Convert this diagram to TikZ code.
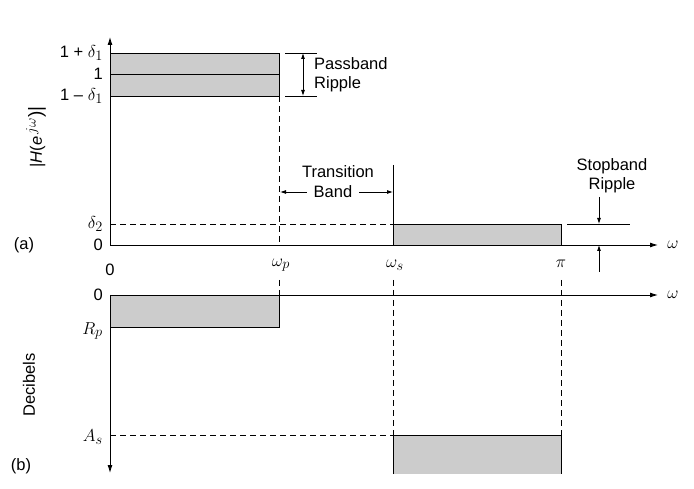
\documentclass[tikz,border=0pt]{standalone}
\usepackage{fontspec}
\setmainfont{Liberation Sans}
\usetikzlibrary{arrows.meta}

\tikzset{
  band/.style={fill=black!20},
  edge/.style={line width=0.9pt},
  guide/.style={line width=0.8pt, dash pattern=on 6pt off 4pt},
  axis/.style={line width=0.9pt, -{Latex[length=8pt,width=5pt]}},
  pointer/.style={line width=0.8pt, -{Latex[length=6pt,width=4pt]}},
  lbl/.style={font=\fontsize{16.5}{19}\selectfont, inner sep=1pt},
  sym/.style={font=\fontsize{19}{21}\selectfont, inner sep=1pt},
}

\begin{document}
\begin{tikzpicture}[x=1pt,y=-1pt]
\useasboundingbox (0,0) rectangle (694,489);

% (a) magnitude response
\coordinate (oa) at (110,245);
\fill[band] (110,53) rectangle (279,96);
\fill[band] (393,224) rectangle (561,245);
\draw[edge] (110,53) -- (279,53) -- (279,96) -- (110,96);
\draw[edge] (110,74) -- (279,74);
\draw[edge] (393,245) -- (393,224) -- (561,224) -- (561,245);
\draw[axis] (oa) -- (110,37);
\draw[axis] (oa) -- (658,245);
\draw[guide] (110,224) -- (393,224);
\draw[guide] (279,96) -- (279,245);
\draw[edge] (393,165) -- (393,224);

\node[lbl, anchor=east] (dp) at (104,53) {1 + \fontsize{19}{21}\selectfont$\delta_1$};
\node[lbl, anchor=east] (one) at (104,74) {1};
\node[lbl, anchor=east] (dm) at (104,96) {1 -- \fontsize{19}{21}\selectfont$\delta_1$};
\node[sym, anchor=east] (dtwo) at (104,224) {$\delta_2$};
\node[lbl, anchor=east] (za) at (104,245) {0};
\node[lbl] (la) at (24,245) {(a)};
\node[lbl, rotate=90] (mag) at (36,137) {|\textit{H}(\textit{e}\,\fontsize{19}{21}\selectfont$^{j\omega}$)|};
\node[lbl] (zx) at (110,270) {0};
\node[sym] (wp) at (281,265) {$\omega_p$};
\node[sym] (ws) at (395,265) {$\omega_s$};
\node[sym] (pi) at (561,264) {$\pi$};
\node[sym] (wa) at (673,245) {$\omega$};

% passband ripple
\coordinate (pr1) at (285,53);
\coordinate (pr2) at (285,96);
\draw[edge] (pr1) -- (317,53);
\draw[edge] (pr2) -- (317,96);
\draw[line width=0.8pt, {Latex[length=6pt,width=4pt]}-{Latex[length=6pt,width=4pt]}] (303,53) -- (303,96);
\node[lbl, anchor=west, align=left] (prip) at (313,75) {Passband\\Ripple};

% transition band
\node[lbl] (trans) at (338,172) {Transition};
\node[lbl] (bnd) at (333,192) {Band};
\coordinate (tl) at (280,192);
\coordinate (tr) at (393,192);
\draw[pointer] ([xshift=-6pt]bnd.west) -- (tl);
\draw[pointer] ([xshift=6pt]bnd.east) -- (tr);

% stopband ripple
\node[lbl, align=center] (srip) at (612,176) {Stopband\\Ripple};
\draw[edge] (567,224) -- (630,224);
\draw[pointer] (599,197) -- (599,224);
\draw[pointer] (599,272) -- (599,245);

% (b) decibels
\coordinate (ob) at (110,295);
\fill[band] (110,295) rectangle (279,327);
\fill[band] (393,435) rectangle (561,474);
\draw[edge] (110,327) -- (279,327) -- (279,295);
\draw[edge] (393,474) -- (393,435) -- (561,435) -- (561,474);
\draw[axis] (ob) -- (110,473);
\draw[axis] (ob) -- (658,295);
\draw[guide] (110,435) -- (393,435);
\draw[guide] (279,280) -- (279,295);
\draw[guide] (393,280) -- (393,435);
\draw[guide] (561,280) -- (561,435);

\node[lbl, anchor=east] (zb) at (104,295) {0};
\node[sym, anchor=east] (rp) at (104,331) {$R_p$};
\node[sym, anchor=east] (as) at (104,437) {$A_s$};
\node[lbl] (lb) at (21,466) {(b)};
\node[lbl, rotate=90] (db) at (29,385) {Decibels};
\node[sym] (wb) at (673,295) {$\omega$};
\end{tikzpicture}
\end{document}
